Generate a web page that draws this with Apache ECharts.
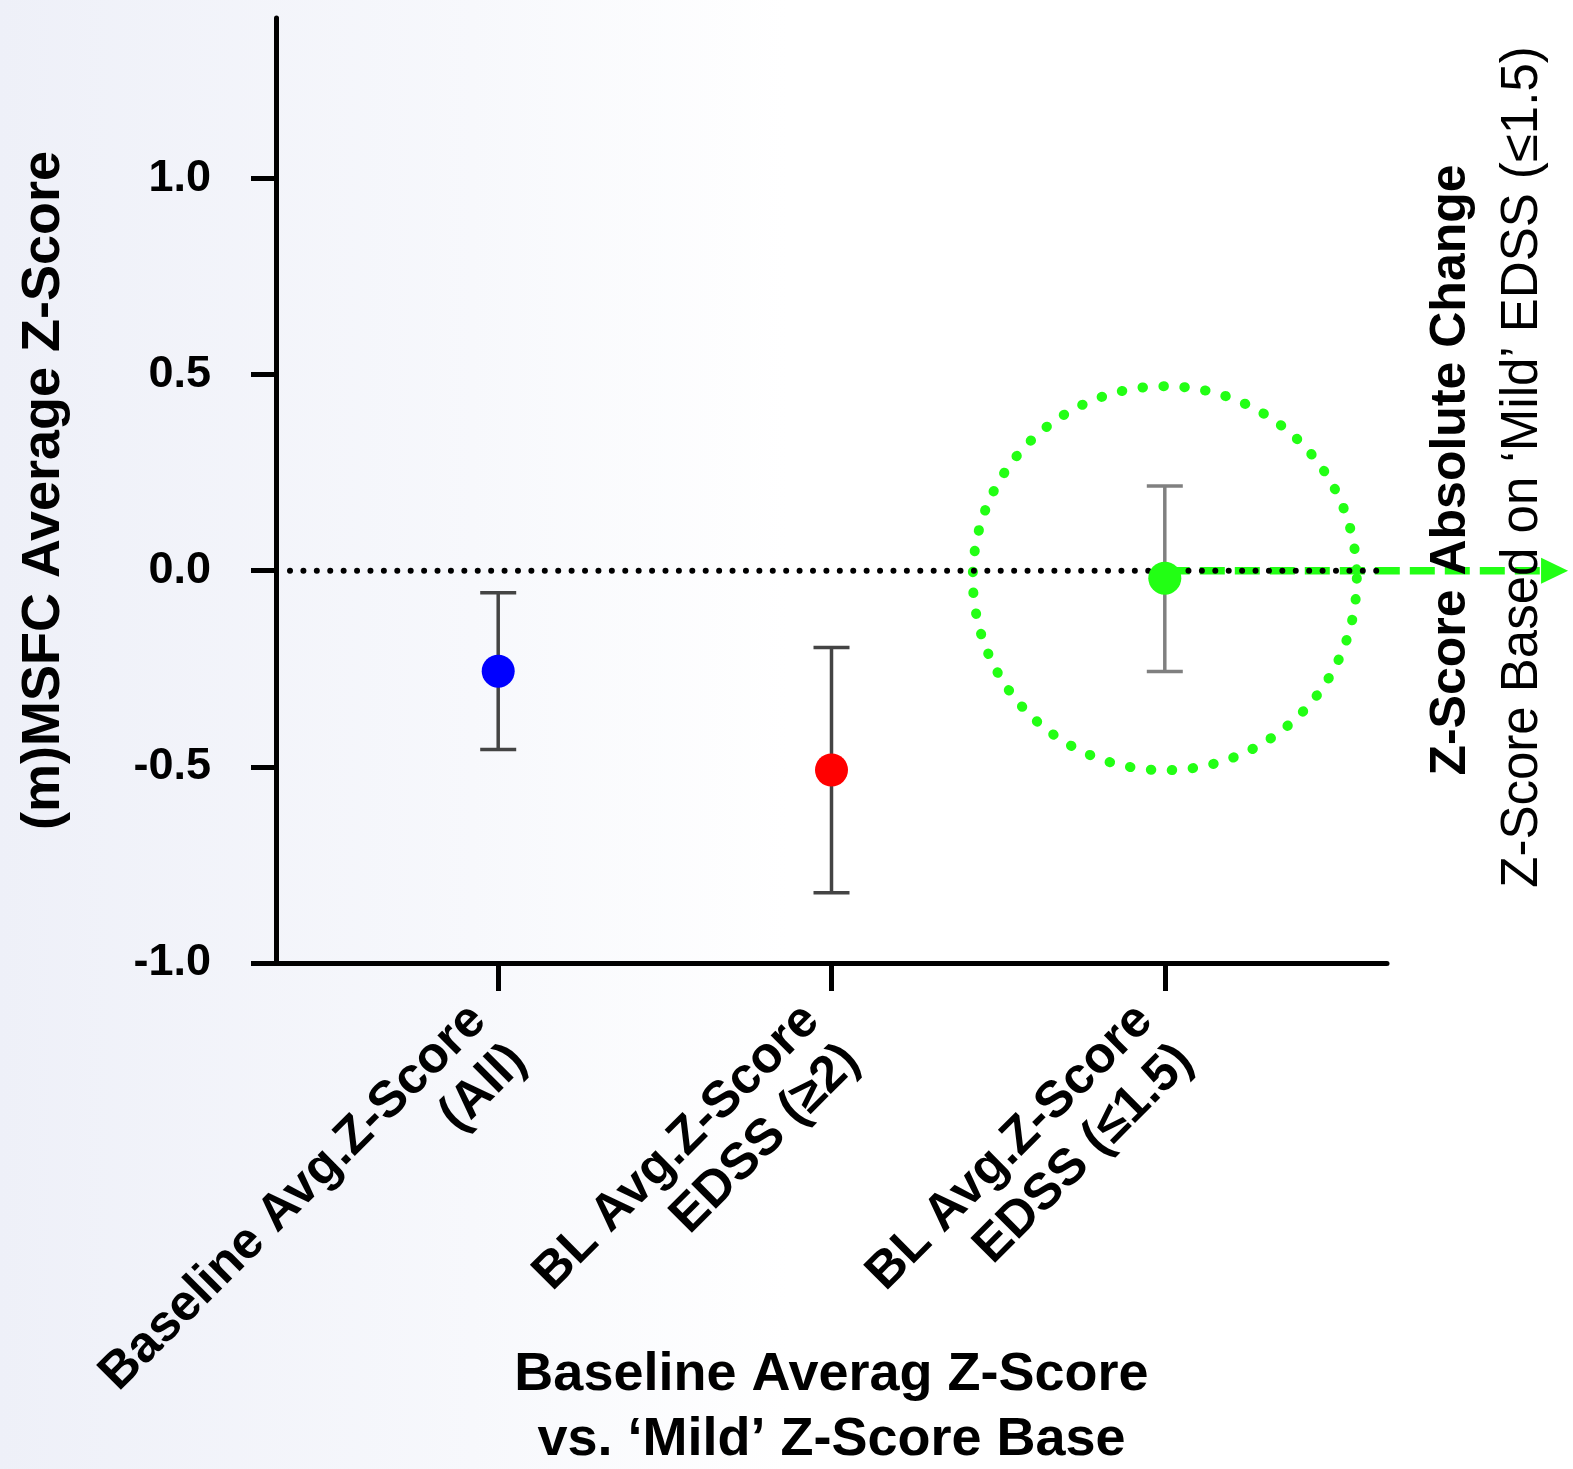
<!DOCTYPE html>
<html><head><meta charset="utf-8">
<style>html,body{margin:0;padding:0;background:#fff}#chart{width:1573px;height:1469px}</style>
<script src="https://cdn.jsdelivr.net/npm/echarts@6/dist/echarts.min.js"></script>
</head><body><div id="chart"></div>
<script>
// ---- data ----
const categories = ['Baseline Avg.Z-Score\n(All)', 'BL Avg.Z-Score\nEDSS (≥2)', 'BL Avg.Z-Score\nEDSS (≤1.5)'];
const categoryPos = [1, 2, 3];
const means = [-0.256, -0.508, -0.019];
const errLower = [-0.456, -0.821, -0.257];
const errUpper = [-0.056, -0.196, 0.216];
const yTicks = [-1.0, -0.5, 0.0, 0.5, 1.0];
const xMin = 1 / 3, xMax = 11 / 3;
const yMin = -1, yMax = 1.409;
const referenceY = 0;
const highlightIndex = 2;
const arrowEndX = 4.21;
const yAxisName = '(m)MSFC Average Z-Score';
const xAxisName = 'Baseline Averag Z-Score\nvs. ‘Mild’ Z-Score Base';
const sideTitle = 'Z-Score Absolute Change';
const sideSubtitle = 'Z-Score Based on ‘Mild’ EDSS (≤1.5)';

// ---- styles ----
const FONT = '"Liberation Sans", Arial, Helvetica, sans-serif';
const pointColors = ['#0000ff', '#ff0000', '#22ff14'];
const errColors = ['#444444', '#444444', '#808080'];
const GREEN = '#22ff14';

const chart = echarts.init(document.getElementById('chart'), null, {renderer: 'canvas'});

const option = {
  animation: false,
  backgroundColor: {
    type: 'linear', x: 0, y: 0, x2: 1, y2: 0,
    colorStops: [
      {offset: 0, color: '#eef0f8'},
      {offset: 0.3, color: '#f7f8fc'},
      {offset: 0.5, color: '#ffffff'},
      {offset: 1, color: '#ffffff'}
    ]
  },
  textStyle: {fontFamily: FONT},
  grid: {left: 276, right: 186, top: 18, bottom: 506, containLabel: false, outerBoundsMode: 'none'},
  xAxis: {
    type: 'value',
    min: xMin, max: xMax,
    splitLine: {show: false},
    axisLine: {show: true, onZero: false, lineStyle: {color: '#000', width: 5}},
    axisTick: {show: true, length: 28, lineStyle: {color: '#000', width: 5}, customValues: categoryPos},
    axisLabel: {
      customValues: categoryPos,
      rotate: 45, margin: 70,
      formatter: v => categories[Math.round(v) - 1] || '',
      fontFamily: FONT, fontSize: 51, fontWeight: 'bold', lineHeight: 57, color: '#000'
    },
    name: xAxisName,
    nameLocation: 'middle',
    nameGap: 380,
    nameMoveOverlap: false,
    nameTextStyle: {fontFamily: FONT, fontSize: 54, fontWeight: 'bold', lineHeight: 65, color: '#000'}
  },
  yAxis: {
    type: 'value',
    min: yMin, max: yMax,
    splitLine: {show: false},
    axisLine: {show: true, onZero: false, lineStyle: {color: '#000', width: 5}},
    axisTick: {show: true, length: 25, lineStyle: {color: '#000', width: 5}, customValues: yTicks},
    axisLabel: {
      customValues: yTicks,
      margin: 65,
      formatter: v => v.toFixed(1),
      fontFamily: FONT, fontSize: 45, fontWeight: 'bold', color: '#000'
    },
    name: yAxisName,
    nameLocation: 'middle',
    nameRotate: 90,
    nameGap: 205,
    nameMoveOverlap: false,
    nameTextStyle: {fontFamily: FONT, fontSize: 54, fontWeight: 'bold', color: '#000'}
  },
  graphic: [
    {type: 'text', x: 1451, y: 470, rotation: Math.PI / 2, z: 50,
     style: {text: sideTitle, font: 'bold 50px ' + FONT, fill: '#000', align: 'center', verticalAlign: 'middle'}},
    {type: 'text', x: 1523, y: 467, rotation: Math.PI / 2, z: 50,
     style: {text: sideSubtitle, font: '51px ' + FONT, fill: '#000', align: 'center', verticalAlign: 'middle'}}
  ],
  series: [
    {
      // dotted highlight circle around the mild group
      type: 'scatter',
      z: 2,
      clip: false,
      silent: true,
      symbolSize: 384,
      itemStyle: {color: 'rgba(0,0,0,0)', opacity: 1, borderColor: GREEN, borderWidth: 10, borderType: [0.5, 20.5], borderCap: 'round'},
      data: [[categoryPos[highlightIndex], means[highlightIndex]]]
    },
    {
      // dashed green arrow pointing to the side titles
      type: 'custom',
      z: 3,
      clip: false,
      silent: true,
      data: [[categoryPos[highlightIndex], referenceY, arrowEndX]],
      renderItem: (params, api) => {
        const p0 = api.coord([api.value(0), api.value(1)]);
        const p1 = api.coord([api.value(2), api.value(1)]);
        const headL = 27, headH = 13;
        return {type: 'group', children: [
          {type: 'line', shape: {x1: p0[0], y1: p0[1], x2: p1[0] - headL + 2, y2: p1[1]},
           style: {stroke: GREEN, lineWidth: 7.5, lineDash: [25, 10]}},
          {type: 'polygon', shape: {points: [[p1[0], p1[1]], [p1[0] - headL, p1[1] - headH], [p1[0] - headL, p1[1] + headH]]},
           style: {fill: GREEN}}
        ]};
      }
    },
    {
      // dotted reference line at zero
      type: 'custom',
      z: 6,
      clip: false,
      silent: true,
      data: [[xMin, xMax, referenceY]],
      renderItem: (params, api) => {
        const a = api.coord([api.value(0), api.value(2)]);
        const b = api.coord([api.value(1), api.value(2)]);
        return {type: 'line', shape: {x1: a[0] + 14, y1: a[1], x2: b[0], y2: b[1]},
          style: {stroke: '#000', lineWidth: 6, lineDash: [0.01, 13.4], lineCap: 'round'}};
      }
    },
    {
      type: 'custom',
      z: 4,
      clip: false,
      silent: true,
      data: categoryPos.map((x, i) => [x, errLower[i], errUpper[i], i]),
      renderItem: (params, api) => {
        const x = api.value(0);
        const lo = api.coord([x, api.value(1)]);
        const hi = api.coord([x, api.value(2)]);
        const c = errColors[api.value(3)];
        const half = 18;
        const st = {stroke: c, lineWidth: 3.5};
        return {type: 'group', children: [
          {type: 'line', shape: {x1: lo[0], y1: lo[1], x2: hi[0], y2: hi[1]}, style: st},
          {type: 'line', shape: {x1: lo[0] - half, y1: lo[1], x2: lo[0] + half, y2: lo[1]}, style: st},
          {type: 'line', shape: {x1: hi[0] - half, y1: hi[1], x2: hi[0] + half, y2: hi[1]}, style: st}
        ]};
      }
    },
    {
      type: 'scatter',
      z: 10,
      symbolSize: 33,
      silent: true,
      itemStyle: {opacity: 1},
      data: categoryPos.map((x, i) => ({value: [x, means[i]], itemStyle: {color: pointColors[i], opacity: 1}}))
    }
  ]
};
chart.setOption(option);
</script>
</body></html>
